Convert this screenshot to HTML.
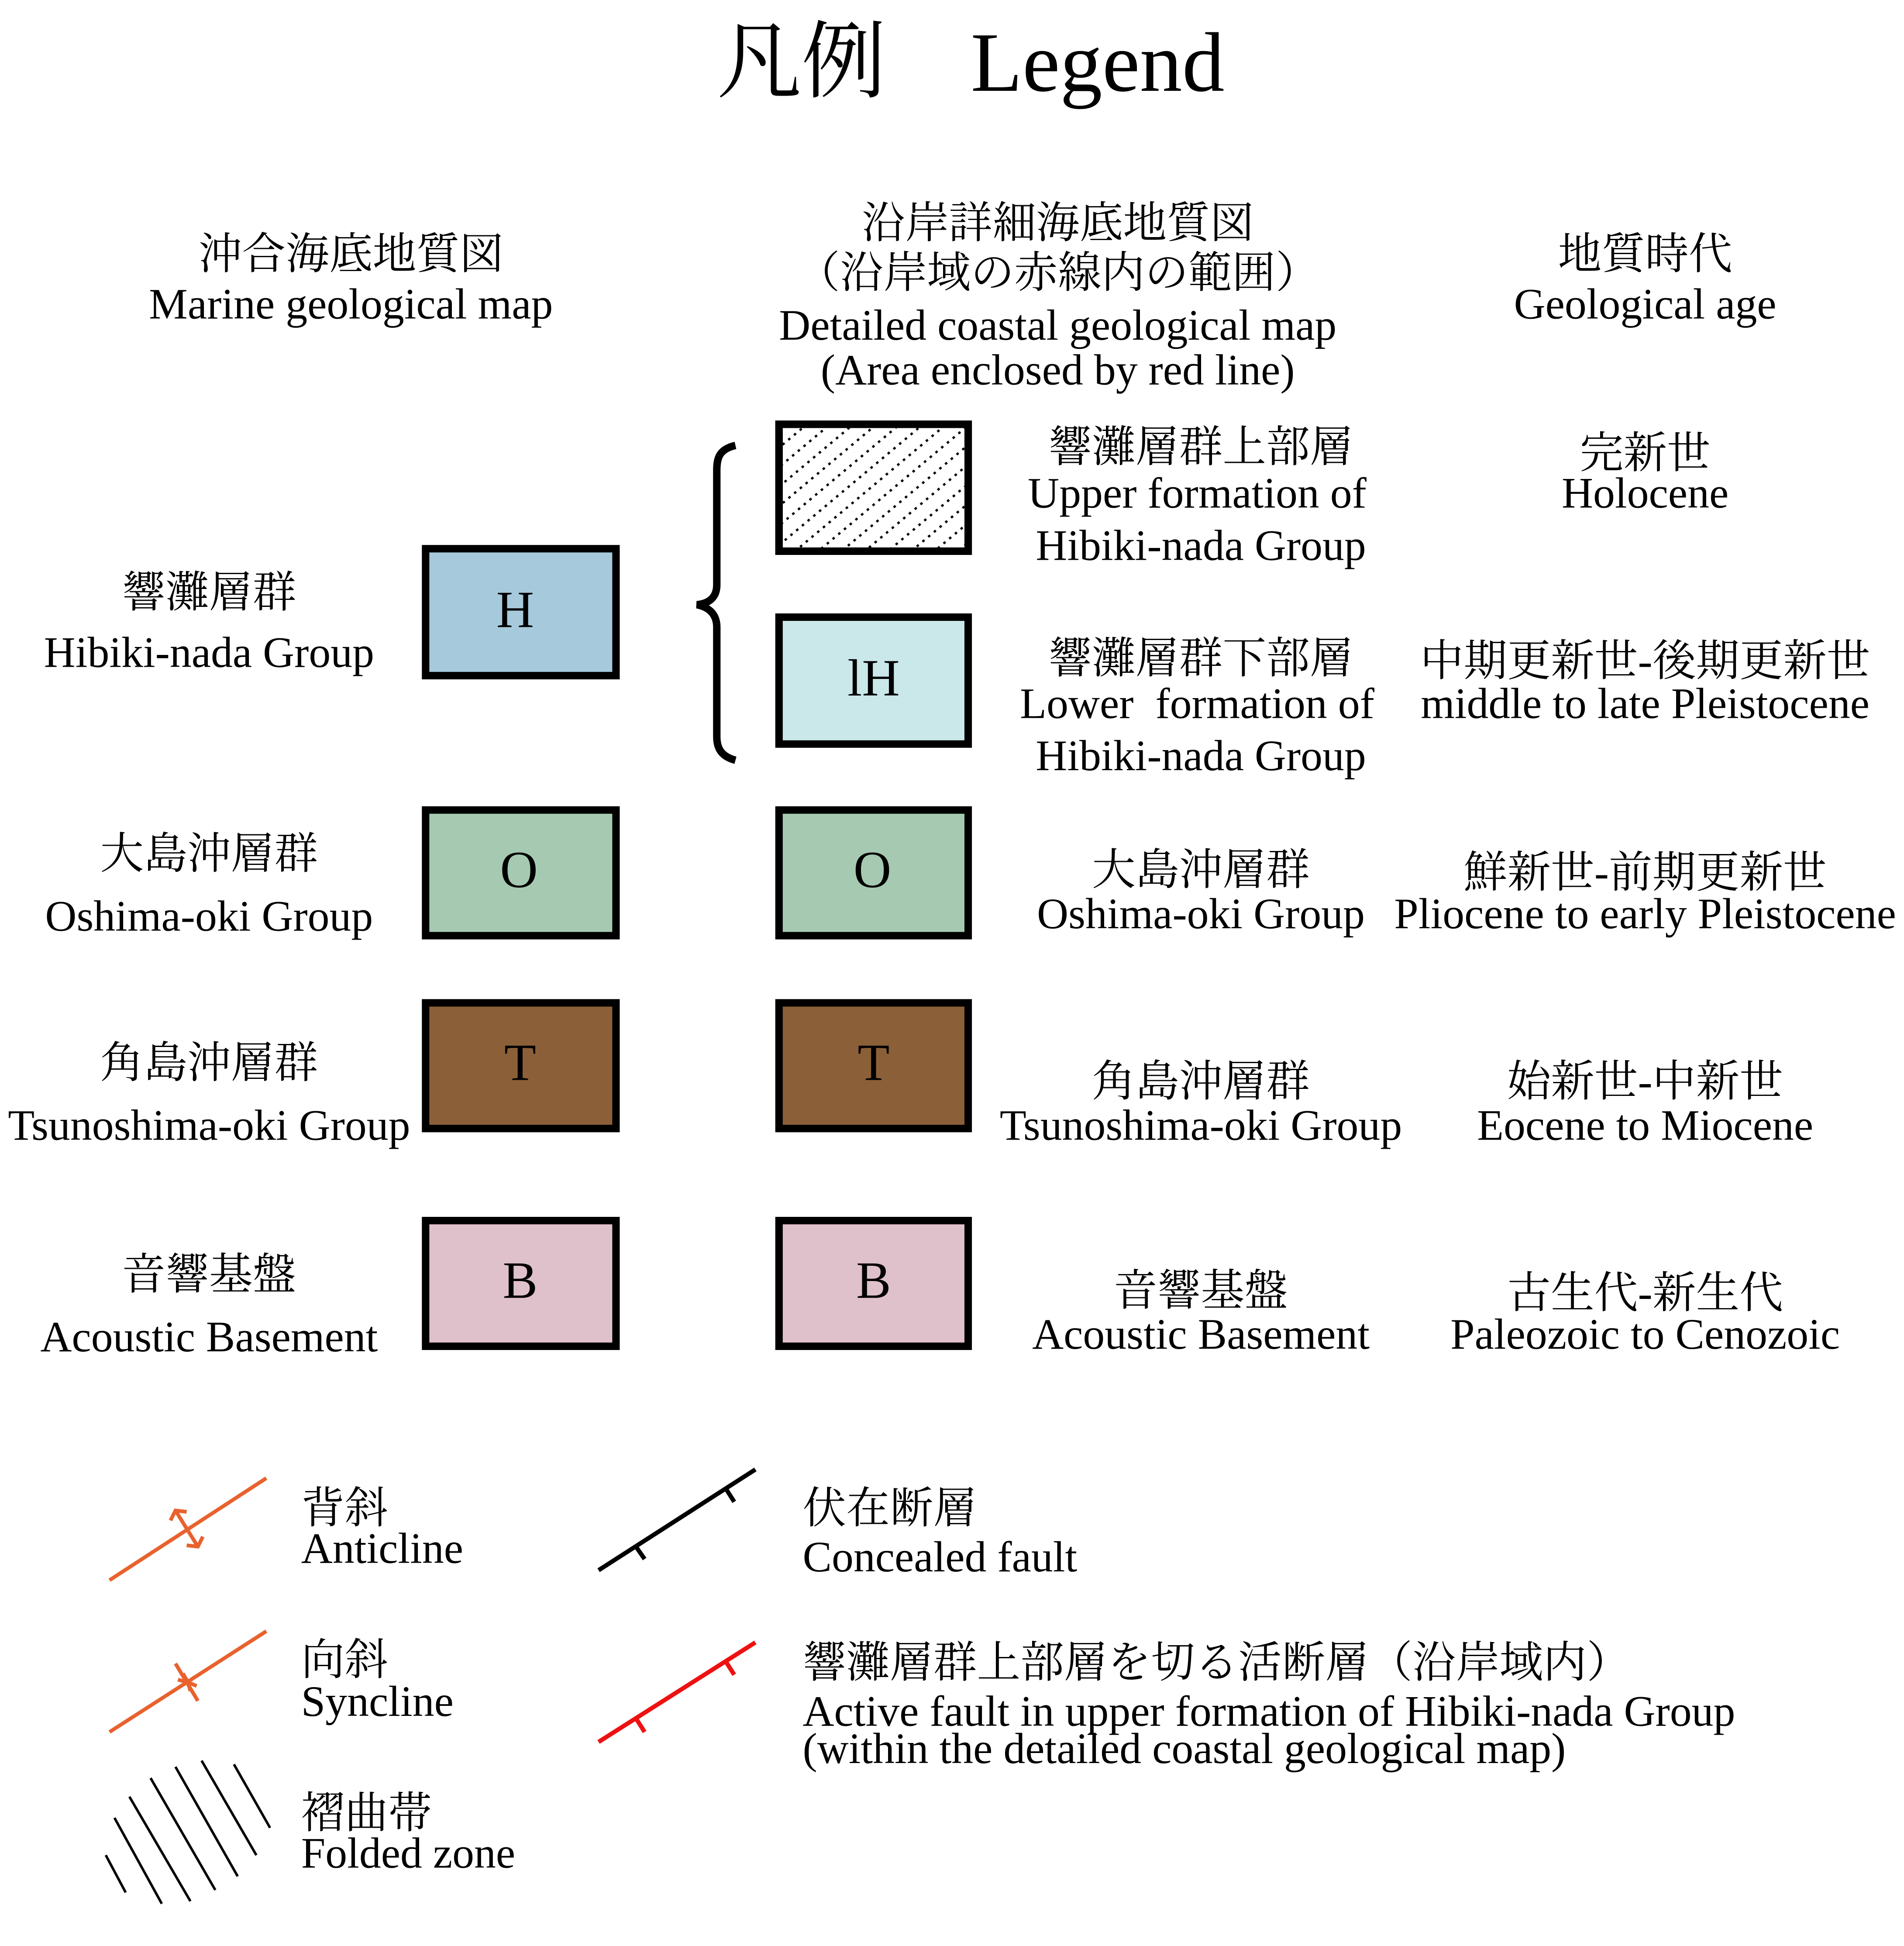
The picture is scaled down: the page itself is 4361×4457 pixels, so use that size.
<!DOCTYPE html>
<html><head><meta charset="utf-8"><style>
html,body{margin:0;padding:0;background:#fff;}
svg{display:block;}
text{font-family:"Liberation Serif","Noto Serif CJK JP","Noto Serif CJK SC",serif;fill:#000;}
</style></head><body>
<svg width="4361" height="4457" viewBox="0 0 1530 1564" preserveAspectRatio="none" xmlns="http://www.w3.org/2000/svg">
<defs>
<pattern id="hatch" patternUnits="userSpaceOnUse" width="12" height="12" patternTransform="rotate(-40)">
<line x1="0" y1="6" x2="12" y2="6" stroke="#000" stroke-width="1.8" stroke-dasharray="2,4"/>
</pattern>
</defs>
<rect width="1530" height="1564" fill="#fff"/>
<text x="780" y="73" font-size="68" text-anchor="middle">凡例　Legend</text>

<g font-size="35" text-anchor="middle">
<text x="282" y="216">沖合海底地質図</text>
<text x="282" y="256">Marine geological map</text>
<text x="850" y="191">沿岸詳細海底地質図</text>
<text x="850" y="231">（沿岸域の赤線内の範囲）</text>
<text x="850" y="273">Detailed coastal geological map</text>
<text x="850" y="309">(Area enclosed by red line)</text>
<text x="1322" y="216">地質時代</text>
<text x="1322" y="256">Geological age</text>

<text x="168" y="488">響灘層群</text>
<text x="168" y="536">Hibiki-nada Group</text>
<text x="168" y="698">大島沖層群</text>
<text x="168" y="748">Oshima-oki Group</text>
<text x="168" y="866">角島沖層群</text>
<text x="168" y="916">Tsunoshima-oki Group</text>
<text x="168" y="1036">音響基盤</text>
<text x="168" y="1086">Acoustic Basement</text>

<text x="965" y="371">響灘層群上部層</text>
<text x="962" y="408">Upper formation of</text>
<text x="965" y="450">Hibiki-nada Group</text>
<text x="965" y="541">響灘層群下部層</text>
<text x="962" y="577" xml:space="preserve">Lower  formation of</text>
<text x="965" y="619">Hibiki-nada Group</text>
<text x="965" y="711">大島沖層群</text>
<text x="965" y="746">Oshima-oki Group</text>
<text x="965" y="881">角島沖層群</text>
<text x="965" y="916">Tsunoshima-oki Group</text>
<text x="965" y="1049">音響基盤</text>
<text x="965" y="1084">Acoustic Basement</text>

<text x="1322" y="376">完新世</text>
<text x="1322" y="408">Holocene</text>
<text x="1322" y="543">中期更新世-後期更新世</text>
<text x="1322" y="577">middle to late Pleistocene</text>
<text x="1322" y="713">鮮新世-前期更新世</text>
<text x="1322" y="746">Pliocene to early Pleistocene</text>
<text x="1322" y="881">始新世-中新世</text>
<text x="1322" y="916">Eocene to Miocene</text>
<text x="1322" y="1051">古生代-新生代</text>
<text x="1322" y="1084">Paleozoic to Cenozoic</text>
</g>

<g stroke="#000" stroke-width="6">
<rect x="342" y="441" width="153" height="102" fill="#a6cadb"/>
<rect x="342" y="651" width="153" height="101" fill="#a5cab1"/>
<rect x="342" y="806" width="153" height="101" fill="#8b5f38"/>
<rect x="342" y="981" width="153" height="101" fill="#dfc1cb"/>
<rect x="626" y="341" width="152" height="102" fill="#fff"/>
<rect x="626" y="341" width="152" height="102" fill="url(#hatch)"/>
<rect x="626" y="496" width="152" height="102" fill="#cae7ea"/>
<rect x="626" y="651" width="152" height="101" fill="#a5cab1"/>
<rect x="626" y="806" width="152" height="101" fill="#8b5f38"/>
<rect x="626" y="981" width="152" height="101" fill="#dfc1cb"/>
</g>
<g font-size="42" text-anchor="middle">
<text x="414" y="504">H</text>
<text x="417" y="713">O</text>
<text x="418" y="868">T</text>
<text x="418" y="1043">B</text>
<text x="702" y="559">lH</text>
<text x="701" y="713">O</text>
<text x="702" y="868">T</text>
<text x="702" y="1043">B</text>
</g>

<path d="M591,358 C578,361 576,368 576,378 L576,470 C576,480 570,485 560,486 C570,488 576,494 576,504 L576,592 C576,602 580,608 591,611" fill="none" stroke="#000" stroke-width="6"/>

<g stroke="#e8622e" stroke-width="3" fill="none">
<line x1="88" y1="1270" x2="214" y2="1188"/>
<line x1="141" y1="1214" x2="159" y2="1243"/>
<polyline points="137,1222 141,1214 150,1215"/>
<polyline points="163,1235 159,1243 150,1242"/>
<line x1="88" y1="1392" x2="214" y2="1311"/>
<line x1="141" y1="1337" x2="159" y2="1367"/>
<polyline points="143,1350 151,1352 147,1345"/>
<polyline points="153,1359 151,1352 158,1355"/>
</g>
<g stroke="#000" stroke-width="2">
<line x1="85" y1="1491" x2="101" y2="1521"/>
<line x1="92" y1="1461" x2="130" y2="1530"/>
<line x1="104" y1="1444" x2="153" y2="1528"/>
<line x1="121" y1="1429" x2="173" y2="1519"/>
<line x1="141" y1="1420" x2="191" y2="1508"/>
<line x1="162" y1="1415" x2="206" y2="1491"/>
<line x1="188" y1="1418" x2="217" y2="1469"/>
</g>
<g stroke="#000" stroke-width="3.5">
<line x1="481" y1="1262" x2="607" y2="1181"/>
<line x1="511" y1="1243" x2="518" y2="1253"/>
<line x1="583" y1="1196" x2="590" y2="1207"/>
</g>
<g stroke="#ee1111" stroke-width="3.5">
<line x1="481" y1="1400" x2="607" y2="1320"/>
<line x1="511" y1="1381" x2="518" y2="1392"/>
<line x1="583" y1="1335" x2="590" y2="1346"/>
</g>

<g font-size="35">
<text x="242" y="1224">背斜</text>
<text x="242" y="1256">Anticline</text>
<text x="242" y="1346">向斜</text>
<text x="242" y="1379">Syncline</text>
<text x="242" y="1469">褶曲帯</text>
<text x="242" y="1501">Folded zone</text>
<text x="645" y="1224">伏在断層</text>
<text x="645" y="1263">Concealed fault</text>
<text x="645" y="1348">響灘層群上部層を切る活断層（沿岸域内）</text>
<text x="645" y="1387">Active fault in upper formation of Hibiki-nada Group</text>
<text x="645" y="1417">(within the detailed coastal geological map)</text>
</g>
</svg>
</body></html>
